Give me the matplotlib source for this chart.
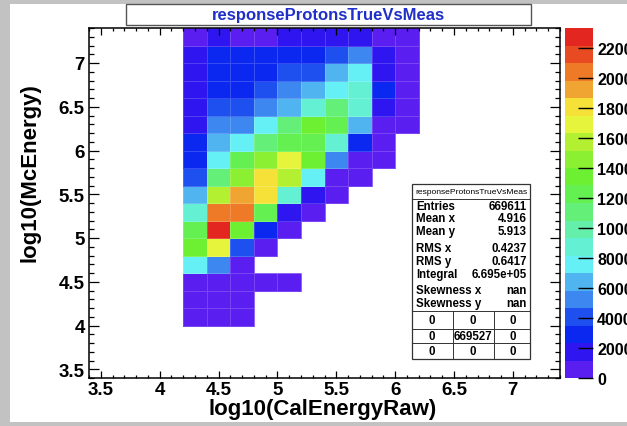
import numpy as np
import matplotlib
matplotlib.use('agg')
import matplotlib.pyplot as plt
from matplotlib.colors import ListedColormap, BoundaryNorm
from matplotlib.patches import Rectangle
from matplotlib.lines import Line2D
from matplotlib.ticker import MultipleLocator, FuncFormatter

plt.rcParams['font.family'] = ['Liberation Sans', 'DejaVu Sans']
plt.rcParams['font.weight'] = 'bold'

W, H = 627, 427

# bin edges of the filled part of the histogram
x_edges = [4.2, 4.4, 4.6, 4.8, 5.0, 5.2, 5.4, 5.6, 5.8, 6.0, 6.2]
y_edges = [4.0, 4.2, 4.4, 4.6, 4.8, 5.0, 5.2, 5.4, 5.6, 5.8, 6.0, 6.2,
           6.4, 6.6, 6.8, 7.0, 7.2, 7.4]

# counts per bin, rows from y=4.0 upwards, 0 = empty
counts = [
    [600, 600, 600, 0, 0, 0, 0, 0, 0, 0],
    [600, 600, 600, 0, 0, 0, 0, 0, 0, 0],
    [600, 600, 600, 600, 600, 0, 0, 0, 0, 0],
    [7600, 5250, 600, 0, 0, 0, 0, 0, 0, 0],
    [13400, 16900, 4100, 900, 0, 0, 0, 0, 0, 0],
    [12200, 23300, 13400, 2900, 900, 0, 0, 0, 0, 0],
    [9300, 20400, 20400, 12200, 1750, 800, 0, 0, 0, 0],
    [6400, 15700, 19200, 18000, 9300, 1750, 800, 0, 0, 0],
    [4100, 11100, 14500, 18000, 15700, 7600, 1000, 1000, 0, 0],
    [2900, 7600, 12200, 14500, 16900, 13400, 5250, 1000, 1000, 0],
    [2900, 6400, 7600, 10500, 12800, 12800, 9300, 2900, 700, 0],
    [1750, 5250, 5250, 7600, 10500, 13400, 12200, 6400, 600, 600],
    [1750, 4100, 4100, 5250, 6400, 9300, 10500, 9300, 1750, 600],
    [1750, 2900, 2900, 4100, 5250, 6400, 7600, 9300, 2900, 600],
    [1750, 2900, 2900, 3000, 4100, 4100, 6400, 7600, 1750, 600],
    [1750, 2900, 2900, 2900, 2900, 2900, 4100, 5250, 1750, 600],
    [600, 1750, 600, 600, 1750, 1750, 1750, 1750, 600, 600],
]
z_max = 23300

title = 'responseProtonsTrueVsMeas'
xlabel = 'log10(CalEnergyRaw)'
ylabel = 'log10(McEnergy)'
cbar_ticks = [0, 2000, 4000, 6000, 8000, 10000, 12000, 14000, 16000,
              18000, 20000, 22000]

stat_names = ['Entries', 'Mean x', 'Mean y', 'RMS x', 'RMS y', 'Integral',
              'Skewness x', 'Skewness y']
stat_values = ['669611', '4.916', '5.913', '0.4237', '0.6417', '6.695e+05',
               'nan', 'nan']
overflow = [['0', '0', '0'], ['0', '669527', '0'], ['0', '0', '0']]

# ROOT style palette, 20 contour levels
palette = ['#5a1ef0', '#2f16f0', '#0a28f0', '#1e50f0', '#3c87f0', '#50b4f0',
           '#64f0f5', '#64f0d2', '#64f0aa', '#64f078', '#64f050', '#6ef032',
           '#8cf032', '#b4f032', '#e6f53c', '#f5e137', '#f0a532', '#ee7a28',
           '#e84a22', '#e3261f']
cmap = ListedColormap(palette)
norm = BoundaryNorm(np.linspace(0, z_max, len(palette) + 1), cmap.N)


def fx(px):
    return px / W


def fy(py):
    return 1 - py / H


fig = plt.figure(figsize=(W / 100, H / 100), dpi=100, facecolor='#c2c2c2')
fig.patches.append(Rectangle((fx(10), fy(423)), fx(627) - fx(10), fy(5) - fy(423),
                             transform=fig.transFigure, facecolor='white',
                             edgecolor='none', zorder=-5))

ax = fig.add_axes([fx(89), fy(379), fx(560) - fx(89), fy(29) - fy(379)])
z = np.ma.masked_equal(np.array(counts, dtype=float), 0)
mesh = ax.pcolormesh(x_edges, y_edges, z, cmap=cmap, norm=norm,
                     edgecolors=(1, 1, 1, 0.18), linewidth=0.4)
ax.set_xlim(3.4, 7.4)
ax.set_ylim(3.4, 7.4)
fmt = FuncFormatter(lambda v, p: '%g' % v)
for axis in (ax.xaxis, ax.yaxis):
    axis.set_major_locator(MultipleLocator(0.5))
    axis.set_minor_locator(MultipleLocator(0.1))
    axis.set_major_formatter(fmt)
ax.tick_params(which='both', direction='in', top=True, right=True, width=0.9)
ax.tick_params(axis='x', which='major', length=5, labelsize=13.5, pad=2)
ax.tick_params(axis='x', which='minor', length=2.5)
ax.tick_params(axis='y', which='major', length=7.5, labelsize=13.5, pad=3)
ax.tick_params(axis='y', which='minor', length=3.7)
for s in ax.spines.values():
    s.set_linewidth(1.1)

fig.text(fx(323), fy(410), xlabel, ha='center', va='center', fontsize=16)
fig.text(fx(30), fy(173), ylabel, ha='center', va='center', fontsize=16,
         rotation=90)

# title box
fig.patches.append(Rectangle((fx(126), fy(26)), fx(531) - fx(126), fy(5) - fy(26),
                             transform=fig.transFigure, facecolor='white',
                             edgecolor='#555555', linewidth=1))
fig.text(fx(328), fy(15.5), title, ha='center', va='center', fontsize=12,
         color='#1f2fc8')

# colour scale (labels run off the right edge as in the original)
cax = fig.add_axes([fx(565), fy(379), fx(593) - fx(565), fy(29) - fy(379)])
cb = fig.colorbar(mesh, cax=cax, ticks=cbar_ticks)
cb.outline.set_visible(False)
cax.tick_params(direction='in', length=11, width=1, labelsize=11.5, pad=3)
cax.minorticks_off()

# stats box
fig.patches.append(Rectangle((fx(412), fy(360)), fx(530) - fx(412), fy(185) - fy(360),
                             transform=fig.transFigure, facecolor='white',
                             edgecolor='#333333', linewidth=0.9, zorder=5))


def hline(py, x0=412, x1=530):
    fig.add_artist(Line2D([fx(x0), fx(x1)], [fy(py), fy(py)], color='#333333',
                          linewidth=0.7, zorder=6))


def vline(px, y0, y1):
    fig.add_artist(Line2D([fx(px), fx(px)], [fy(y0), fy(y1)], color='#333333',
                          linewidth=0.7, zorder=6))


fig.text(fx(471), fy(192.5), title, ha='center', va='center', fontsize=6.1,
         fontweight='normal', zorder=7)
hline(200)
stat_y = [207, 219, 232, 249, 262, 275, 291, 304]
for name, val, py in zip(stat_names, stat_values, stat_y):
    fig.text(fx(416), fy(py), name, ha='left', va='center', fontsize=8.3, zorder=7)
    fig.text(fx(527), fy(py), val, ha='right', va='center', fontsize=8.3, zorder=7)
hline(312)
hline(330)
hline(344)
vline(453, 312, 360)
vline(494, 312, 360)
row_y = [321, 337, 352]
col_x = [432, 473, 513]
for row, py in zip(overflow, row_y):
    for cell, px in zip(row, col_x):
        fig.text(fx(px), fy(py), cell, ha='center', va='center', fontsize=8.3,
                 zorder=7)

fig.savefig('out.png', dpi=100, facecolor=fig.get_facecolor())
